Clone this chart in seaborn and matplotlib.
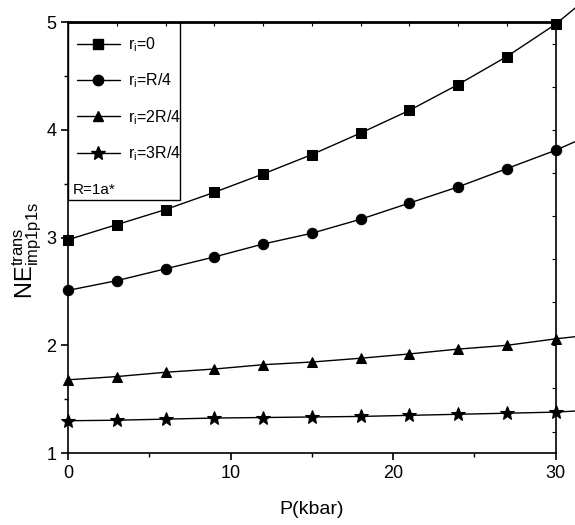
import numpy as np
import pandas as pd
import matplotlib
matplotlib.use("Agg")
import matplotlib.pyplot as plt
import seaborn as sns
from matplotlib.patches import Rectangle
from matplotlib.ticker import MultipleLocator

# pressure points (kbar) where the markers sit
pressure = [0, 3, 6, 9, 12, 15, 18, 21, 24, 27, 30]
# the curves run on past the frame to the figure edge
pressure_edge = 31.2

ne_r0 = [2.98, 3.12, 3.26, 3.42, 3.59, 3.77, 3.97, 4.18, 4.42, 4.68, 4.98]
ne_r1 = [2.51, 2.60, 2.71, 2.82, 2.94, 3.04, 3.17, 3.32, 3.47, 3.64, 3.81]
ne_r2 = [1.68, 1.71, 1.75, 1.78, 1.82, 1.845, 1.88, 1.92, 1.965, 2.00, 2.06]
ne_r3 = [1.30, 1.305, 1.315, 1.325, 1.33, 1.335, 1.34, 1.35, 1.36, 1.37, 1.38]
ne_edge = [5.13, 3.89, 2.08, 1.39]

labels = [r"r$_\mathregular{i}$=0", r"r$_\mathregular{i}$=R/4",
          r"r$_\mathregular{i}$=2R/4", r"r$_\mathregular{i}$=3R/4"]
markers = ["s", "o", "^", "*"]

sns.set_style("ticks")
plt.rcParams["font.family"] = ["Liberation Sans", "DejaVu Sans"]
plt.rcParams["mathtext.fontset"] = "custom"
plt.rcParams["mathtext.rm"] = "Liberation Sans"
plt.rcParams["mathtext.it"] = "Liberation Sans"
for key in ["text.color", "axes.labelcolor", "xtick.color", "ytick.color"]:
    plt.rcParams[key] = "black"

fig = plt.figure(figsize=(5.75, 5.25), dpi=100)
ax = fig.add_axes([0.1183, 0.137, 0.848, 0.821])

series = [ne_r0, ne_r1, ne_r2, ne_r3]
handles = []
for vals, edge, lab, mk in zip(series, ne_edge, labels, markers):
    line_df = pd.DataFrame({"P": pressure + [pressure_edge], "NE": vals + [edge]})
    pts_df = pd.DataFrame({"P": pressure, "NE": vals})
    sns.lineplot(data=line_df, x="P", y="NE", color="black", lw=1.0,
                 clip_on=False, ax=ax, zorder=2)
    ms = 10 if mk == "*" else 7.5
    sns.lineplot(data=pts_df, x="P", y="NE", color="black", lw=0,
                 marker=mk, markersize=ms, markeredgecolor="black",
                 clip_on=False, ax=ax, zorder=3)
    handles.append(plt.Line2D([], [], color="black", lw=1.0, marker=mk,
                              markersize=ms, label=lab))

ax.set_xlim(0, 30)
ax.set_ylim(1, 5)
ax.xaxis.set_major_locator(MultipleLocator(10))
ax.xaxis.set_minor_locator(MultipleLocator(5))
ax.yaxis.set_major_locator(MultipleLocator(1))
ax.yaxis.set_minor_locator(MultipleLocator(0.5))
ax.tick_params(which="major", direction="out", length=5, width=1.2,
               labelsize=13, color="black")
ax.tick_params(which="minor", direction="out", length=3, width=1.0)
for side in ["left", "bottom", "right"]:
    ax.spines[side].set_linewidth(1.2)
    ax.spines[side].set_color("black")
ax.spines["top"].set_linewidth(2.0)
ax.spines["top"].set_color("black")

# small inward ticks on the top and right frame
top = ax.secondary_xaxis("top")
top.xaxis.set_major_locator(MultipleLocator(3))
top.tick_params(direction="in", length=3, labeltop=False)
top.spines["top"].set_visible(False)
right = ax.secondary_yaxis("right")
right.yaxis.set_major_locator(MultipleLocator(0.4))
right.tick_params(direction="in", length=3, labelright=False)
right.spines["right"].set_visible(False)

ax.set_xlabel("P(kbar)", fontsize=14, labelpad=14)
ax.set_ylabel(r"NE$^\mathregular{trans}_\mathregular{imp1p1s}$", fontsize=17)
ax.yaxis.set_label_coords(-0.05, 0.47)

# legend frame with the extra note inside
ax.add_patch(Rectangle((0, 0.587), 0.23, 0.413, transform=ax.transAxes,
                       fill=False, edgecolor="black", lw=1.0, zorder=4))
leg = ax.legend(handles=handles, loc="upper left", bbox_to_anchor=(-0.005, 0.995),
                frameon=False, fontsize=11.5, handlelength=2.7,
                labelspacing=1.1, handletextpad=0.5, borderaxespad=0.3)
ax.text(0.01, 0.61, "R=1a*", transform=ax.transAxes, fontsize=11,
        va="center", ha="left")

fig.savefig("out.png", dpi=100)
